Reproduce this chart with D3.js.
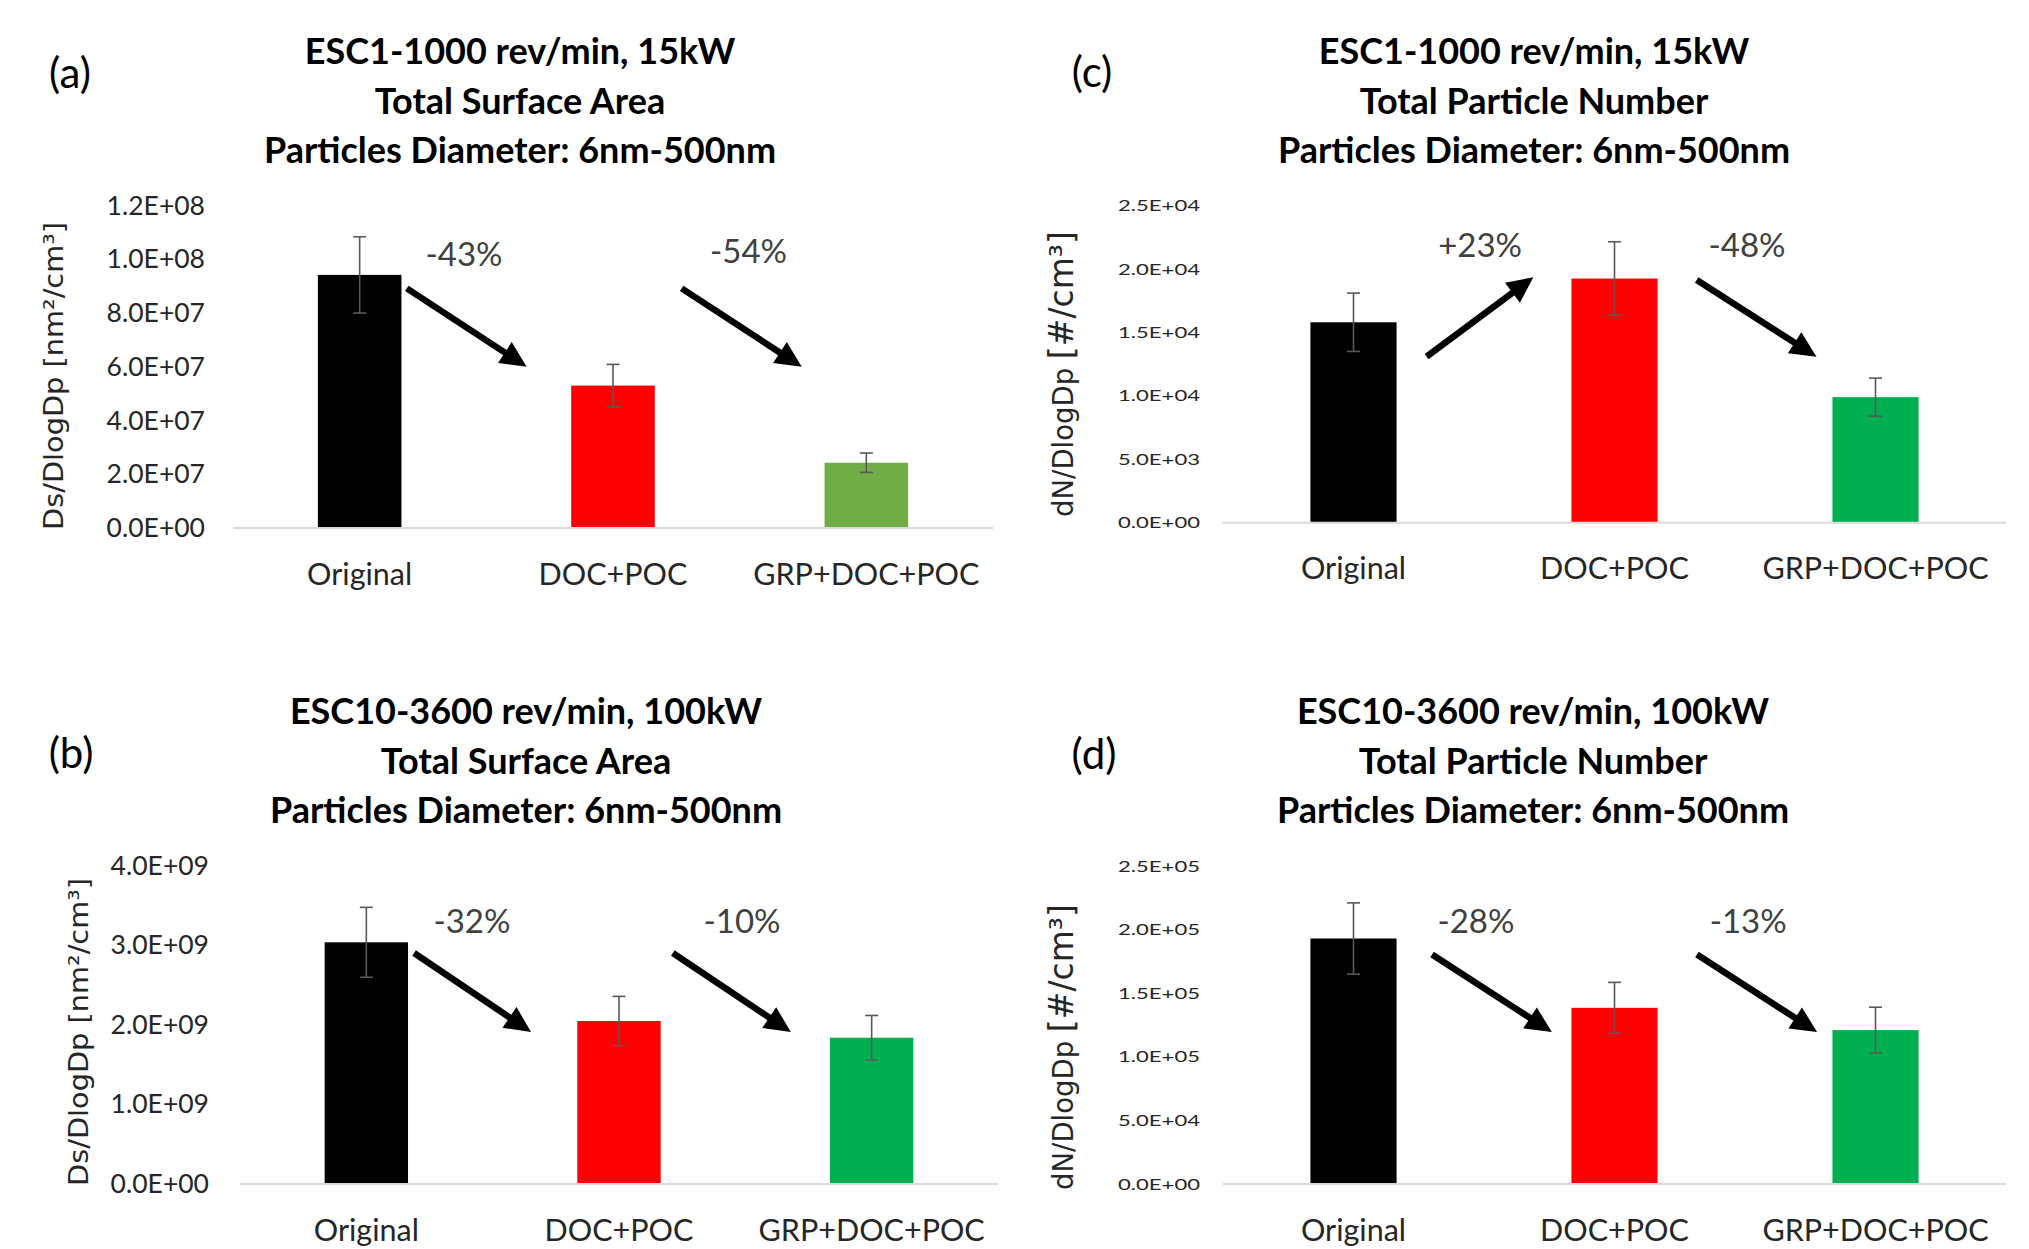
<!DOCTYPE html>
<html>
<head>
<meta charset="utf-8">
<script src="https://cdn.jsdelivr.net/npm/d3@7"></script>
<style>
  body { margin: 0; background: #fff; }
  svg { display: block; }
</style>
</head>
<body>
<svg id="chart" width="2029" height="1249"></svg>
<script>
// categories shared by all 4 panels
const categories = ["Original", "DOC+POC", "GRP+DOC+POC"];

// (a) ESC1 total surface area
const areaEsc1 = [9.42e7, 5.30e7, 2.43e7];
const areaEsc1Err = [1.42e7, 0.79e7, 0.36e7];
// (b) ESC10 total surface area
const areaEsc10 = [3.04e9, 2.05e9, 1.84e9];
const areaEsc10Err = [0.44e9, 0.31e9, 0.28e9];
// (c) ESC1 total particle number
const numEsc1 = [1.58e4, 1.925e4, 0.99e4];
const numEsc1Err = [0.23e4, 0.29e4, 0.15e4];
// (d) ESC10 total particle number
const numEsc10 = [1.93e5, 1.385e5, 1.21e5];
const numEsc10Err = [0.28e5, 0.20e5, 0.18e5];

// y tick values
const ticksA = [0, 2e7, 4e7, 6e7, 8e7, 1e8, 1.2e8];
const ticksB = [0, 1e9, 2e9, 3e9, 4e9];
const ticksC = [0, 5e3, 1e4, 1.5e4, 2e4, 2.5e4];
const ticksD = [0, 5e4, 1e5, 1.5e5, 2e5, 2.5e5];

// percentage change labels
const changesA = ["-43%", "-54%"];
const changesB = ["-32%", "-10%"];
const changesC = ["+23%", "-48%"];
const changesD = ["-28%", "-13%"];

const svg = d3.select("#chart");
const CAL = "Lato, 'Open Sans', sans-serif";

// excel style scientific labels e.g. 1.2E+08
function sci(v) {
    const [m, e] = v.toExponential(1).split("e");
    const n = +e;
    return m + "E" + (n < 0 ? "-" : "+") + String(Math.abs(n)).padStart(2, "0");
}

// layout of each panel (pixels), arrows/labels placed in data units
const panels = [
    { tag: "(a)", tagX: 70, tagY: 88,
      title: ["ESC1-1000 rev/min, 15kW", "Total Surface Area", "Particles Diameter: 6nm-500nm"],
      titleX: 520, titleY: 64,
      values: areaEsc1, errors: areaEsc1Err, ticks: ticksA, changes: changesA, green: "#70AD47",
      x0: 233, x1: 993, yBase: 528, yTop: 205.6, tickRight: 205, tickSize: 26.5, tickLen: null,
      yTitle: "area", yTitleX: 63, yTitleY: 376, labelY: 585,
      arrows: [[0.186, 8.92e7, 0.659, 6.00e7], [1.271, 8.92e7, 1.745, 6.00e7]],
      notes: [[0.412, 9.75e7], [1.535, 9.86e7]] },
    { tag: "(b)", tagX: 71, tagY: 768,
      title: ["ESC10-3600 rev/min, 100kW", "Total Surface Area", "Particles Diameter: 6nm-500nm"],
      titleX: 526, titleY: 724,
      values: areaEsc10, errors: areaEsc10Err, ticks: ticksB, changes: changesB, green: "#00B050",
      x0: 240, x1: 998, yBase: 1184, yTop: 866, tickRight: 209, tickSize: 26.5, tickLen: null,
      yTitle: "area", yTitleX: 88, yTitleY: 1032, labelY: 1241,
      arrows: [[0.189, 2.906e9, 0.652, 1.912e9], [1.213, 2.906e9, 1.68, 1.912e9]],
      notes: [[0.418, 3.157e9], [1.487, 3.157e9]] },
    { tag: "(c)", tagX: 1092, tagY: 87,
      title: ["ESC1-1000 rev/min, 15kW", "Total Particle Number", "Particles Diameter: 6nm-500nm"],
      titleX: 1534, titleY: 64,
      values: numEsc1, errors: numEsc1Err, ticks: ticksC, changes: changesC, green: "#00B050",
      x0: 1223, x1: 2006, yBase: 522.7, yTop: 205.6, tickRight: 1200, tickSize: 16, tickLen: 82,
      yTitle: "num", yTitleX: 1073, yTitleY: 374, labelY: 579,
      arrows: [[0.28, 1.309e4, 0.689, 1.935e4], [1.315, 1.913e4, 1.774, 1.309e4]],
      notes: [[0.485, 2.097e4], [1.508, 2.097e4]] },
    { tag: "(d)", tagX: 1094, tagY: 769,
      title: ["ESC10-3600 rev/min, 100kW", "Total Particle Number", "Particles Diameter: 6nm-500nm"],
      titleX: 1533, titleY: 724,
      values: numEsc10, errors: numEsc10Err, ticks: ticksD, changes: changesD, green: "#00B050",
      x0: 1223, x1: 2006, yBase: 1184, yTop: 866, tickRight: 1200, tickSize: 16, tickLen: 82,
      yTitle: "num", yTitleX: 1073, yTitleY: 1047, labelY: 1241,
      arrows: [[0.301, 1.804e5, 0.76, 1.195e5], [1.316, 1.804e5, 1.776, 1.195e5]],
      notes: [[0.469, 1.973e5], [1.512, 1.973e5]] }
];

function drawArrow(g, x1, y1, x2, y2) {
    const dx = x2 - x1, dy = y2 - y1;
    const len = Math.hypot(dx, dy);
    const ux = dx / len, uy = dy / len;
    const hl = 26, hw = 12.5;
    const bx = x2 - ux * hl, by = y2 - uy * hl;
    g.append("line")
        .attr("x1", x1).attr("y1", y1)
        .attr("x2", bx + ux * 2).attr("y2", by + uy * 2)
        .attr("stroke", "#000").attr("stroke-width", 6.5);
    g.append("path")
        .attr("d", `M${x2},${y2}L${bx - uy * hw},${by + ux * hw}L${bx + uy * hw},${by - ux * hw}Z`)
        .attr("fill", "#000");
}

panels.forEach(p => {
    const g = svg.append("g");
    const colors = ["#000000", "#FF0000", p.green];

    const x = d3.scaleBand().domain(categories).range([p.x0, p.x1])
        .paddingInner(0.67).paddingOuter(0.335);
    const y = d3.scaleLinear().domain([0, p.ticks[p.ticks.length - 1]]).range([p.yBase, p.yTop]);
    // continuous position across categories (0 = first bar centre)
    const xc = d3.scaleLinear().domain([0, categories.length - 1])
        .range([x(categories[0]) + x.bandwidth() / 2, x(categories[categories.length - 1]) + x.bandwidth() / 2]);

    // panel tag
    g.append("text").attr("x", p.tagX).attr("y", p.tagY)
        .attr("text-anchor", "middle").style("font-family", CAL).style("font-size", "42px")
        .attr("fill", "#000").text(p.tag);

    // title
    g.append("g").selectAll("text").data(p.title).join("text")
        .attr("x", p.titleX).attr("y", (d, i) => p.titleY + i * 49.5)
        .attr("text-anchor", "middle")
        .style("font-family", CAL).style("font-weight", "bold").style("font-size", "36px")
        .attr("fill", "#000").text(d => d);

    // y axis labels
    const yAxis = g.append("g").attr("transform", `translate(${p.tickRight},0)`)
        .call(d3.axisLeft(y).tickValues(p.ticks).tickFormat(sci).tickSize(0).tickPadding(0));
    yAxis.select(".domain").remove();
    yAxis.selectAll("text")
        .style("font-family", CAL).style("font-size", p.tickSize + "px").attr("fill", "#262626");
    if (p.tickLen) {
        yAxis.selectAll("text").attr("textLength", p.tickLen).attr("lengthAdjust", "spacingAndGlyphs");
    }

    // y axis title
    const yt = g.append("text")
        .attr("transform", `translate(${p.yTitleX},${p.yTitleY}) rotate(-90)`)
        .attr("text-anchor", "middle")
        .style("font-family", "'DejaVu Sans', sans-serif").attr("fill", "#262626");
    if (p.yTitle === "area") {
        yt.style("font-size", "26px").attr("textLength", 308).attr("lengthAdjust", "spacingAndGlyphs")
            .text("Ds/DlogDp [nm²/cm³]");
    } else {
        yt.append("tspan").style("font-size", "27.5px").text("dN/DlogDp ");
        yt.append("tspan").style("font-size", "33px").text("[#/cm³]");
    }

    // bars
    g.append("g").selectAll("rect").data(p.values).join("rect")
        .attr("x", (d, i) => x(categories[i]))
        .attr("y", d => y(d))
        .attr("width", x.bandwidth())
        .attr("height", d => y(0) - y(d))
        .attr("fill", (d, i) => colors[i]);

    // baseline
    g.append("line")
        .attr("x1", p.x0).attr("x2", p.x1)
        .attr("y1", y(0)).attr("y2", y(0))
        .attr("stroke", "#D9D9D9").attr("stroke-width", 2);

    // error bars
    const eb = g.append("g").attr("stroke", "#595959").attr("stroke-width", 1.6).attr("fill", "none");
    p.values.forEach((v, i) => {
        const cx = xc(i);
        const hi = y(v + p.errors[i]), lo = y(v - p.errors[i]);
        eb.append("line").attr("x1", cx).attr("x2", cx).attr("y1", hi).attr("y2", lo);
        eb.append("line").attr("x1", cx - 6.5).attr("x2", cx + 6.5).attr("y1", hi).attr("y2", hi);
        eb.append("line").attr("x1", cx - 6.5).attr("x2", cx + 6.5).attr("y1", lo).attr("y2", lo);
    });

    // category labels
    g.append("g").selectAll("text").data(categories).join("text")
        .attr("x", d => x(d) + x.bandwidth() / 2)
        .attr("y", p.labelY)
        .attr("text-anchor", "middle")
        .style("font-family", CAL).style("font-size", "30.5px")
        .attr("fill", "#262626").text(d => d);

    // change arrows and labels
    p.arrows.forEach(a => drawArrow(g, xc(a[0]), y(a[1]), xc(a[2]), y(a[3])));
    g.append("g").selectAll("text").data(p.changes).join("text")
        .attr("x", (d, i) => xc(p.notes[i][0]))
        .attr("y", (d, i) => y(p.notes[i][1]))
        .attr("text-anchor", "middle")
        .style("font-family", CAL).style("font-weight", "400").style("font-size", "33px")
        .attr("fill", "#404040").text(d => d);
});
</script>
</body>
</html>
